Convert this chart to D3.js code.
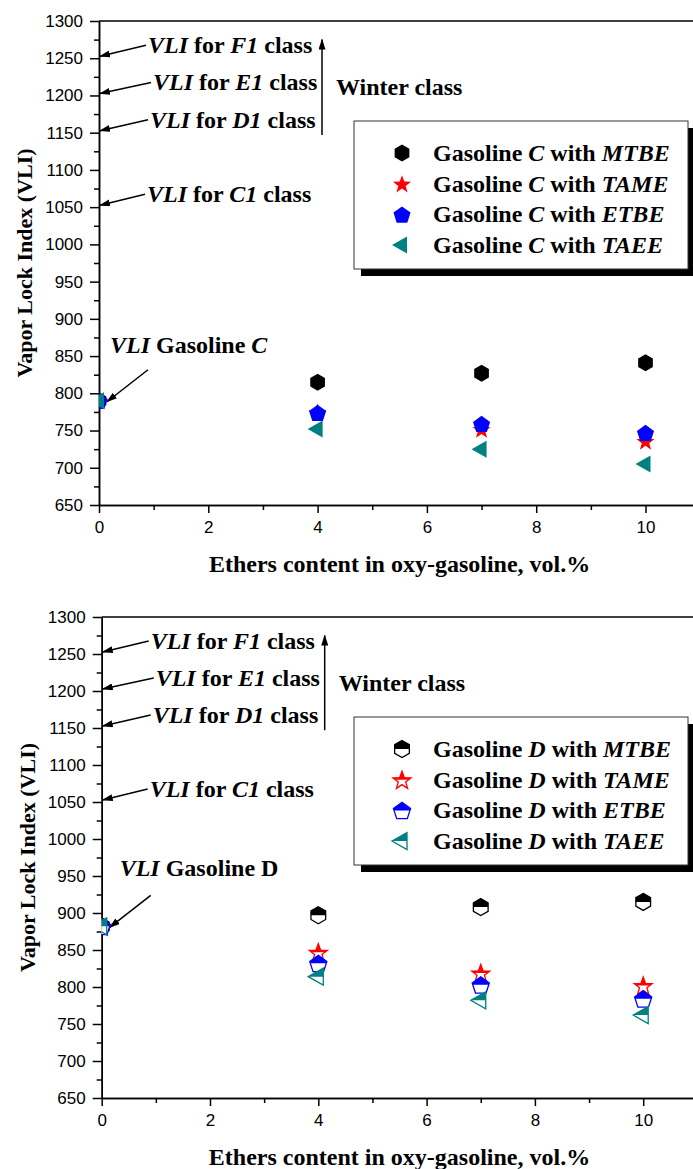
<!DOCTYPE html>
<html><head><meta charset="utf-8">
<script src="https://cdn.jsdelivr.net/npm/d3@7"></script>
<style>body{margin:0;background:#fff} svg{display:block} text{white-space:pre}</style>
</head><body>
<svg id="chart" width="693" height="1169"></svg>
<script>
// ---------- data ----------
const ethersContent = [0, 4, 7, 10];
const xTickValues = [0, 2, 4, 6, 8, 10];
const xMinorTicks = [1, 3, 5, 7, 9];
const yTickValues = [650, 700, 750, 800, 850, 900, 950, 1000, 1050, 1100, 1150, 1200, 1250, 1300];
const yMinorTicks = [675, 725, 775, 825, 875, 925, 975, 1025, 1075, 1125, 1175, 1225, 1275];
const etherNames = ["MTBE", "TAME", "ETBE", "TAEE"];
const etherColors = ["#000000", "#ff0000", "#0000ff", "#008080"];
const etherShapes = ["hexagon", "star", "pentagon", "triangle"];

const gasolineC_MTBE = [790, 815, 827, 841];
const gasolineC_TAME = [790, 775, 752, 736];
const gasolineC_ETBE = [790, 774, 759, 747];
const gasolineC_TAEE = [790, 752, 725, 705];

const gasolineD_MTBE = [882, 897, 908, 915];
const gasolineD_TAME = [882, 847, 819, 802];
const gasolineD_ETBE = [882, 832, 803, 784];
const gasolineD_TAEE = [882, 814, 782, 762];

const classNames = ["F1", "E1", "D1", "C1"];
const classVLI = [1250, 1200, 1150, 1050];
const classTextDx = [49, 54, 51, 48];

const xTitle = "Ethers content in oxy-gasoline, vol.%";
const yTitle = "Vapor Lock Index (VLI)";

// ---------- drawing ----------
const svg = d3.select("#chart");
const defs = svg.append("defs");
defs.append("marker").attr("id", "arrowhead")
  .attr("markerUnits", "userSpaceOnUse").attr("markerWidth", 11).attr("markerHeight", 7)
  .attr("refX", 10).attr("refY", 3.5).attr("orient", "auto")
  .append("path").attr("d", "M0,0 L11,3.5 L0,7 Z").attr("fill", "#000");
defs.append("clipPath").attr("id", "halfTop").attr("clipPathUnits", "userSpaceOnUse")
  .append("rect").attr("x", -20).attr("y", -20).attr("width", 40).attr("height", 20);

function polyPath(pts) { return "M" + pts.map(p => p[0].toFixed(2) + "," + p[1].toFixed(2)).join("L") + "Z"; }
function shapePath(type) {
  if (type === "hexagon") {
    const r = 8.5;
    return polyPath(d3.range(6).map(i => { const a = (-90 + 60 * i) * Math.PI / 180; return [r * Math.cos(a), r * Math.sin(a)]; }));
  }
  if (type === "pentagon") {
    const r = 9;
    return polyPath(d3.range(5).map(i => { const a = (-90 + 72 * i) * Math.PI / 180; return [r * Math.cos(a), r * Math.sin(a) + 1]; }));
  }
  if (type === "star") {
    const R = 9.5, ri = 3.9;
    return polyPath(d3.range(10).map(i => { const a = (-90 + 36 * i) * Math.PI / 180; const rr = i % 2 ? ri : R; return [rr * Math.cos(a), rr * Math.sin(a) + 1]; }));
  }
  // triangle pointing left
  return polyPath([[-10, 0], [5, -8.5], [5, 8.5]]);
}

function drawMarker(g, type, color, half) {
  const d = shapePath(type);
  if (!half) {
    g.append("path").attr("d", d).attr("fill", color);
  } else {
    g.append("path").attr("d", d).attr("fill", "#fff").attr("stroke", color).attr("stroke-width", 1.3);
    g.append("path").attr("d", d).attr("fill", color).attr("clip-path", "url(#halfTop)");
  }
}

function richText(sel, parts) {
  parts.forEach(([t, it]) => sel.append("tspan").text(t).attr("font-style", it ? "italic" : "normal"));
  return sel;
}

function drawChart(cfg) {
  const g = svg.append("g");
  const x = d3.scaleLinear().domain([0, 11]).range([cfg.left, cfg.left + 11 * cfg.xUnit]);
  const y = d3.scaleLinear().domain([650, 1300]).range([cfg.bottom, cfg.top]);
  const serif = "'Liberation Serif','Times New Roman',serif";

  // frame top line
  g.append("line").attr("x1", cfg.left).attr("x2", 693).attr("y1", cfg.top).attr("y2", cfg.top)
    .attr("stroke", "#000").attr("stroke-width", 1.5);

  // axes
  const yAxis = d3.axisLeft(y).tickValues(yTickValues).tickSize(9).tickSizeOuter(0).tickPadding(7).tickFormat(d3.format("d"));
  const yMinor = d3.axisLeft(y).tickValues(yMinorTicks).tickSize(5).tickSizeOuter(0).tickFormat("");
  const xAxis = d3.axisBottom(x).tickValues(xTickValues).tickSize(8).tickSizeOuter(0).tickPadding(8).tickFormat(d3.format("d"));
  const xMinor = d3.axisBottom(x).tickValues(xMinorTicks).tickSize(5).tickSizeOuter(0).tickFormat("");
  [[yAxis, `translate(${cfg.left},0)`], [yMinor, `translate(${cfg.left},0)`],
   [xAxis, `translate(0,${cfg.bottom})`], [xMinor, `translate(0,${cfg.bottom})`]].forEach(([ax, tr]) => {
    const a = g.append("g").attr("transform", tr).call(ax);
    a.selectAll("path,line").attr("stroke", "#000").attr("stroke-width", 1.5);
    a.selectAll("text").attr("font-family", "'Liberation Sans',Arial,sans-serif").attr("font-size", 17).attr("fill", "#000");
  });

  // axis titles
  g.append("text").attr("x", x(5.5)).attr("y", cfg.bottom + 67).attr("text-anchor", "middle")
    .attr("font-family", serif).attr("font-weight", "bold").attr("font-size", 24).text(xTitle);
  g.append("text").attr("transform", `translate(${cfg.left - 67},${(cfg.top + cfg.bottom) / 2}) rotate(-90)`)
    .attr("text-anchor", "middle").attr("font-family", serif).attr("font-weight", "bold").attr("font-size", 22).text(yTitle);

  // class annotations
  classNames.forEach((c, i) => {
    const base = y(classVLI[i]) - 5;
    const tx = cfg.left + classTextDx[i];
    richText(g.append("text").attr("x", tx).attr("y", base).attr("font-family", serif).attr("font-weight", "bold").attr("font-size", 24),
      [["VLI", true], [" for ", false], [c, true], [" class", false]]);
    g.append("line").attr("x1", tx - 2).attr("y1", base - 8).attr("x2", cfg.left + 1).attr("y2", y(classVLI[i]) - 2)
      .attr("stroke", "#000").attr("stroke-width", 1.5).attr("marker-end", "url(#arrowhead)");
  });
  // winter class arrow
  g.append("line").attr("x1", cfg.left + 223).attr("x2", cfg.left + 223).attr("y1", y(1147)).attr("y2", y(1275))
    .attr("stroke", "#000").attr("stroke-width", 1.5).attr("marker-end", "url(#arrowhead)");
  g.append("text").attr("x", cfg.left + 237).attr("y", y(1200)).attr("font-family", serif).attr("font-weight", "bold").attr("font-size", 24).text("Winter class");

  // base gasoline annotation
  const v0 = cfg.series[0][0];
  richText(g.append("text").attr("x", cfg.left + cfg.baseTextDx).attr("y", y(v0) - cfg.baseTextDy)
    .attr("font-family", serif).attr("font-weight", "bold").attr("font-size", 24), cfg.baseLabel);
  g.append("line").attr("x1", cfg.left + 49).attr("y1", y(v0) - 31).attr("x2", cfg.left + 8).attr("y2", y(v0) + 1)
    .attr("stroke", "#000").attr("stroke-width", 1.5).attr("marker-end", "url(#arrowhead)");

  // points
  const clipId = "plotClip" + cfg.id;
  defs.append("clipPath").attr("id", clipId).append("rect")
    .attr("x", cfg.left).attr("y", cfg.top).attr("width", 700 - cfg.left).attr("height", cfg.bottom - cfg.top);
  const pts = g.append("g").attr("clip-path", `url(#${clipId})`);
  cfg.series.forEach((vals, si) => {
    vals.forEach((v, i) => {
      const mg = pts.append("g").attr("transform", `translate(${x(ethersContent[i])},${y(v)})`);
      drawMarker(mg, etherShapes[si], etherColors[si], cfg.half);
    });
  });

  // legend
  const lx = cfg.left + cfg.legendDx, ly = cfg.top + 100, lw = 334, lh = 148;
  g.append("rect").attr("x", lx + 7).attr("y", ly + 7).attr("width", lw).attr("height", lh).attr("fill", "#000");
  g.append("rect").attr("x", lx).attr("y", ly).attr("width", lw).attr("height", lh).attr("fill", "#fff").attr("stroke", "#333").attr("stroke-width", 1);
  etherNames.forEach((n, i) => {
    const cy = ly + 32 + i * 30.7;
    const mg = g.append("g").attr("transform", `translate(${lx + 48},${cy})`);
    drawMarker(mg, etherShapes[i], etherColors[i], cfg.half);
    richText(g.append("text").attr("x", lx + 79).attr("y", cy + 8).attr("font-family", serif).attr("font-weight", "bold").attr("font-size", 24),
      [["Gasoline ", false], [cfg.gas, true], [" with ", false], [n, true]]);
  });
}

drawChart({
  id: "C", left: 99, top: 21, bottom: 505, xUnit: 54.65, legendDx: 255, half: false, gas: "C",
  series: [gasolineC_MTBE, gasolineC_TAME, gasolineC_ETBE, gasolineC_TAEE],
  baseLabel: [["VLI", true], [" Gasoline ", false], ["C", true]], baseTextDx: 11, baseTextDy: 48
});
drawChart({
  id: "D", left: 101.7, top: 617, bottom: 1098, xUnit: 54.15, legendDx: 252.3, half: true, gas: "D",
  series: [gasolineD_MTBE, gasolineD_TAME, gasolineD_ETBE, gasolineD_TAEE],
  baseLabel: [["VLI", true], [" Gasoline D", false]], baseTextDx: 18, baseTextDy: 50
});
</script>
</body></html>
